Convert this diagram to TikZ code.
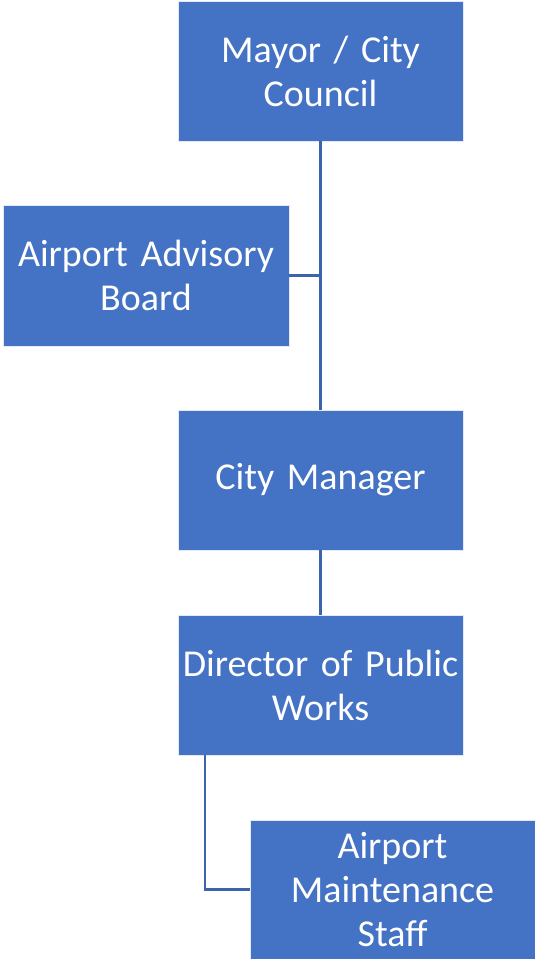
\documentclass[tikz,border=0pt]{standalone}
\usepackage{fontspec}
\setmainfont{Carlito}
\usetikzlibrary{calc}
\definecolor{boxblue}{HTML}{4472C4}
\definecolor{lineblue}{HTML}{3C64AE}
\tikzset{
  orgbox/.style={rectangle, fill=boxblue, draw=white!85!boxblue, line width=0.8pt,
    text=white, font=\fontsize{38}{44}\selectfont, align=center, inner sep=0pt},
  link/.style={draw=lineblue, line width=2.2pt}
}
\begin{document}
\begin{tikzpicture}[x=1pt,y=-1pt]
\useasboundingbox (0,0) rectangle (535,959);
\node[orgbox, minimum width=285pt, minimum height=140pt, text width=285pt] (mayor) at (320.5,71) {Mayor / City\\Council};
\node[orgbox, minimum width=286pt, minimum height=141pt, text width=286pt] (adv) at (146,275.5) {Airport Advisory\\Board};
\node[orgbox, minimum width=285pt, minimum height=140pt, text width=285pt] (mgr) at (320.5,480) {City Manager};
\node[orgbox, minimum width=285pt, minimum height=140pt, text width=285pt] (dir) at (320.5,685) {Director of Public\\Works};
\node[orgbox, minimum width=285pt, minimum height=139pt, text width=285pt] (staff) at (392.5,889.5) {Airport\\Maintenance\\Staff};
\draw[link] (mayor.south) -- (mgr.north);
\draw[link] (adv.east) -- (adv.east -| mayor.south);
\draw[link] (mgr.south) -- (dir.north);
\draw[link] ($(dir.south west)+(27,0)$) |- (staff.west);
\end{tikzpicture}
\end{document}
